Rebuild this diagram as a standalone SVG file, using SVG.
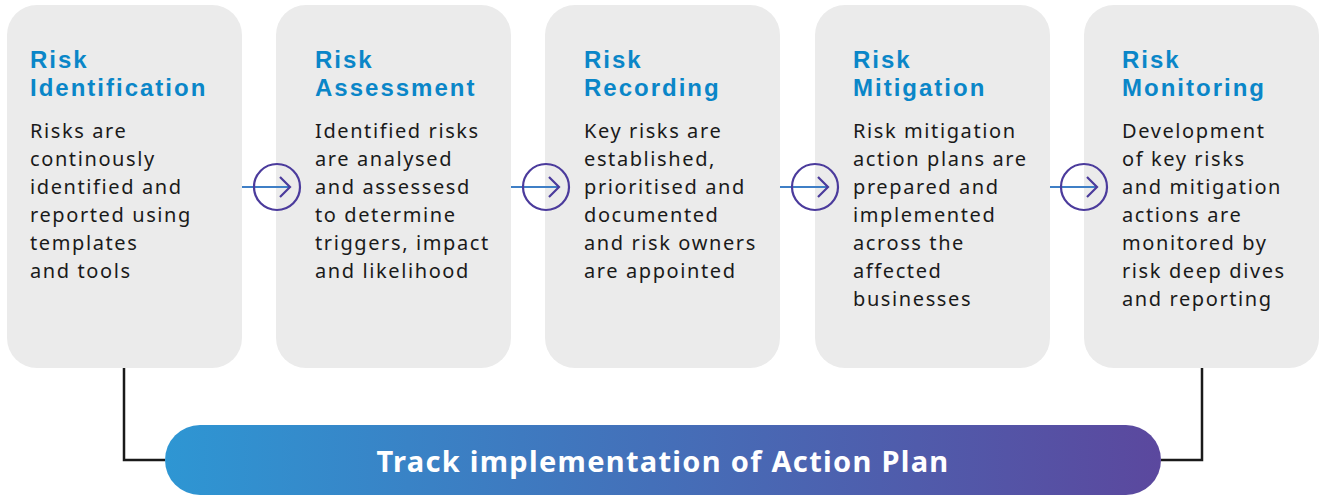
<svg xmlns="http://www.w3.org/2000/svg" width="1321" height="496" viewBox="0 0 1321 496">
<style>
.box{fill:#ebebeb}
.title{font-family:"Liberation Sans",Arial,sans-serif;font-weight:700;font-size:24px;fill:#0a86c8;letter-spacing:2px}
.body{font-family:"Noto Sans",sans-serif;font-size:20px;fill:#1a1a1a;letter-spacing:1.6px}
.conn{fill:none;stroke:#1a1a1a;stroke-width:2.5}
.ring{fill:none;stroke:#4b3b9c;stroke-width:2.2}
.chev{fill:none;stroke:#4b3b9c;stroke-width:2.2}
.lead{stroke:#3f7fc6;stroke-width:2.2}
.bar-text{font-family:"Noto Sans",sans-serif;font-weight:700;font-size:29px;fill:#ffffff;letter-spacing:1.3px}
</style>
<defs>
<linearGradient id="barGrad" x1="0" y1="0" x2="1" y2="0">
<stop offset="0" stop-color="#2e96d3"/>
<stop offset="1" stop-color="#5b489e"/>
</linearGradient>
</defs>

<g id="node-identification">
<rect class="box" x="7" y="5" width="235" height="363" rx="30"/>
<text class="title" x="30" y="68">Risk<tspan x="30" y="96">Identification</tspan></text>
<text class="body" x="30" y="138">Risks are</text>
<text class="body" x="30" y="166">continously</text>
<text class="body" x="30" y="194">identified and</text>
<text class="body" x="30" y="222">reported using</text>
<text class="body" x="30" y="250">templates</text>
<text class="body" x="30" y="278">and tools</text>
</g>

<g id="node-assessment">
<rect class="box" x="276" y="5" width="235" height="363" rx="30"/>
<text class="title" x="315" y="68">Risk<tspan x="315" y="96">Assessment</tspan></text>
<text class="body" x="315" y="138">Identified risks</text>
<text class="body" x="315" y="166">are analysed</text>
<text class="body" x="315" y="194">and assessesd</text>
<text class="body" x="315" y="222">to determine</text>
<text class="body" x="315" y="250">triggers, impact</text>
<text class="body" x="315" y="278">and likelihood</text>
</g>

<g id="node-recording">
<rect class="box" x="545" y="5" width="235" height="363" rx="30"/>
<text class="title" x="584" y="68">Risk<tspan x="584" y="96">Recording</tspan></text>
<text class="body" x="584" y="138">Key risks are</text>
<text class="body" x="584" y="166">established,</text>
<text class="body" x="584" y="194">prioritised and</text>
<text class="body" x="584" y="222">documented</text>
<text class="body" x="584" y="250">and risk owners</text>
<text class="body" x="584" y="278">are appointed</text>
</g>

<g id="node-mitigation">
<rect class="box" x="815" y="5" width="235" height="363" rx="30"/>
<text class="title" x="853" y="68">Risk<tspan x="853" y="96">Mitigation</tspan></text>
<text class="body" x="853" y="138">Risk mitigation</text>
<text class="body" x="853" y="166">action plans are</text>
<text class="body" x="853" y="194">prepared and</text>
<text class="body" x="853" y="222">implemented</text>
<text class="body" x="853" y="250">across the</text>
<text class="body" x="853" y="278">affected</text>
<text class="body" x="853" y="306">businesses</text>
</g>

<g id="node-monitoring">
<rect class="box" x="1084" y="5" width="235" height="363" rx="30"/>
<text class="title" x="1122" y="68">Risk<tspan x="1122" y="96">Monitoring</tspan></text>
<text class="body" x="1122" y="138">Development</text>
<text class="body" x="1122" y="166">of key risks</text>
<text class="body" x="1122" y="194">and mitigation</text>
<text class="body" x="1122" y="222">actions are</text>
<text class="body" x="1122" y="250">monitored by</text>
<text class="body" x="1122" y="278">risk deep dives</text>
<text class="body" x="1122" y="306">and reporting</text>
</g>

<g id="node-track">
<rect x="165" y="425" width="996" height="70" rx="35" fill="url(#barGrad)"/>
<text class="bar-text" x="663" y="472" text-anchor="middle">Track implementation of Action Plan</text>
</g>

<g id="connectors">
<g id="arrow-1">
<line class="lead" x1="242" y1="187" x2="289" y2="187"/>
<circle class="ring" cx="277" cy="187" r="23"/>
<polyline class="chev" points="280,177 290,187 280,197"/>
</g>
<g id="arrow-2">
<line class="lead" x1="511" y1="187" x2="558" y2="187"/>
<circle class="ring" cx="546" cy="187" r="23"/>
<polyline class="chev" points="549,177 559,187 549,197"/>
</g>
<g id="arrow-3">
<line class="lead" x1="780" y1="187" x2="827" y2="187"/>
<circle class="ring" cx="815" cy="187" r="23"/>
<polyline class="chev" points="818,177 828,187 818,197"/>
</g>
<g id="arrow-4">
<line class="lead" x1="1050" y1="187" x2="1096" y2="187"/>
<circle class="ring" cx="1084" cy="187" r="23"/>
<polyline class="chev" points="1087,177 1097,187 1087,197"/>
</g>
<polyline class="conn" points="124,368 124,460 165,460"/>
<polyline class="conn" points="1202,368 1202,460 1161,460"/>
</g>
</svg>
